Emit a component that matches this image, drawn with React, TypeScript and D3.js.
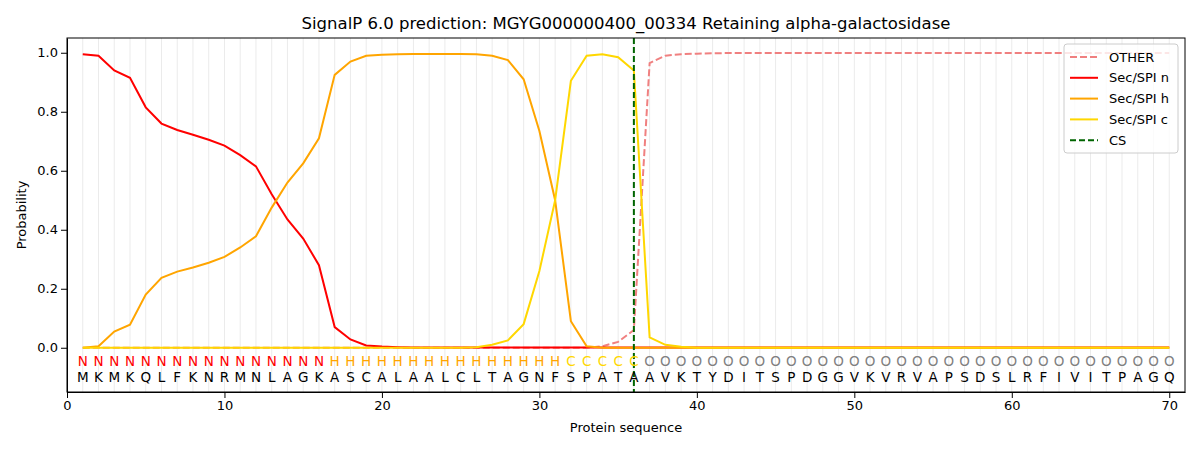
import { useEffect, useRef } from 'react';
import * as d3 from 'd3';

const sequence = 'MKMKQLFKNRMNLAGKASCALAALCLTAGNFSPATAAVKTYDITSPDGGVKVRVAPSDSLRFIVITPAGQ'.split('');
const labels = ('N'.repeat(16) + 'H'.repeat(15) + 'C'.repeat(5) + 'O'.repeat(34)).split('');
const secN = [0.995, 0.99, 0.94, 0.915, 0.815, 0.76, 0.738, 0.722, 0.705, 0.685, 0.653, 0.615, 0.52, 0.435, 0.37, 0.28, 0.07, 0.028, 0.008, 0.004, 0.002];
const secH = [0, 0.005, 0.055, 0.078, 0.18, 0.237, 0.258, 0.272, 0.288, 0.308, 0.34, 0.378, 0.475, 0.56, 0.625, 0.71, 0.925, 0.97, 0.99, 0.993, 0.995, 0.996, 0.996, 0.996, 0.996, 0.995, 0.99, 0.975, 0.91, 0.735, 0.5, 0.09, 0.005];
const secC = [0, 0, 0, 0, 0, 0, 0, 0, 0, 0, 0, 0, 0, 0, 0, 0, 0, 0, 0, 0, 0, 0, 0, 0, 0, 0.002, 0.01, 0.025, 0.08, 0.26, 0.5, 0.905, 0.99, 0.995, 0.985, 0.94, 0.035, 0.01, 0.003];
const other = [0, 0, 0, 0, 0, 0, 0, 0, 0, 0, 0, 0, 0, 0, 0, 0, 0, 0, 0, 0, 0, 0, 0, 0, 0, 0, 0, 0, 0, 0, 0, 0, 0, 0.005, 0.02, 0.06, 0.965, 0.99, 0.995, 0.997, 0.998];
const cs = 36;
const pad = (a: number[], last: number) => sequence.map((_, i) => (i < a.length ? a[i] : last));

const series = [
  { name: 'OTHER', color: '#f08080', dash: '7,3', values: pad(other, 0.999) },
  { name: 'Sec/SPI n', color: '#ff0000', dash: '', values: pad(secN, 0.001) },
  { name: 'Sec/SPI h', color: '#ffa500', dash: '', values: pad(secH, 0) },
  { name: 'Sec/SPI c', color: '#ffd700', dash: '', values: pad(secC, 0) },
];
const labelColor: Record<string, string> = { N: '#ff0000', H: '#ffa500', C: '#ffd700', O: '#808080' };

export default function App() {
  const ref = useRef<SVGSVGElement>(null);
  useEffect(() => {
    const svg = d3.select(ref.current);
    svg.selectAll('*').remove();
    const m = { left: 67, right: 15, top: 38, bottom: 58 };
    const W = 1200, H = 450;
    const x = d3.scaleLinear().domain([0, 71]).range([m.left, W - m.right]);
    const y = d3.scaleLinear().domain([-0.15, 1.05]).range([H - m.bottom, m.top]);
    svg.append('rect').attr('width', W).attr('height', H).attr('fill', 'white');
    const g = svg.append('g');
    // grid
    g.selectAll('line.grid').data(d3.range(1, 71)).join('line')
      .attr('x1', (d) => x(d)).attr('x2', (d) => x(d))
      .attr('y1', y(1.05)).attr('y2', y(-0.15))
      .attr('stroke', '#ebebeb').attr('stroke-width', 1);
    const line = d3.line<number>().x((_, i) => x(i + 1)).y((d) => y(d));
    series.forEach((s) => {
      g.append('path').attr('d', line(s.values)).attr('fill', 'none')
        .attr('stroke', s.color).attr('stroke-width', 2)
        .attr('stroke-dasharray', s.dash || null);
    });
    g.append('line').attr('x1', x(cs)).attr('x2', x(cs)).attr('y1', y(1.05)).attr('y2', y(-0.15))
      .attr('stroke', '#006400').attr('stroke-width', 2).attr('stroke-dasharray', '6,3');
    g.selectAll('text.lab').data(labels).join('text')
      .attr('x', (_, i) => x(i + 1)).attr('y', y(-0.047)).attr('dy', '0.35em')
      .attr('text-anchor', 'middle').attr('font-size', 13.5).attr('fill', (d) => labelColor[d]).text((d) => d);
    g.selectAll('text.seq').data(sequence).join('text')
      .attr('x', (_, i) => x(i + 1)).attr('y', y(-0.1)).attr('dy', '0.35em')
      .attr('text-anchor', 'middle').attr('font-size', 13.5).attr('fill', 'black').text((d) => d);
    // axes
    g.append('g').attr('transform', `translate(0,${H - m.bottom})`)
      .call(d3.axisBottom(x).tickValues(d3.range(0, 71, 10)).tickSizeOuter(0))
      .call((a) => a.selectAll('text').attr('font-size', 13).attr('font-family', 'DejaVu Sans'));
    g.append('g').attr('transform', `translate(${m.left},0)`)
      .call(d3.axisLeft(y).tickValues(d3.range(0, 1.01, 0.2)).tickFormat(d3.format('.1f')).tickSizeOuter(0))
      .call((a) => a.selectAll('text').attr('font-size', 13).attr('font-family', 'DejaVu Sans'));
    g.append('rect').attr('x', m.left).attr('y', m.top).attr('width', W - m.left - m.right)
      .attr('height', H - m.top - m.bottom).attr('fill', 'none').attr('stroke', 'black');
    svg.append('text').attr('x', (m.left + W - m.right) / 2).attr('y', 29).attr('text-anchor', 'middle')
      .attr('font-size', 16.5).text('SignalP 6.0 prediction: MGYG000000400_00334 Retaining alpha-galactosidase');
    svg.append('text').attr('x', (m.left + W - m.right) / 2).attr('y', 432).attr('text-anchor', 'middle')
      .attr('font-size', 13).text('Protein sequence');
    svg.append('text').attr('transform', `translate(26,${(m.top + H - m.bottom) / 2}) rotate(-90)`)
      .attr('text-anchor', 'middle').attr('font-size', 13).text('Probability');
    // legend
    const lg = svg.append('g').attr('transform', 'translate(1064,44)');
    lg.append('rect').attr('width', 114).attr('height', 109).attr('rx', 3).attr('fill', 'white')
      .attr('fill-opacity', 0.8).attr('stroke', '#ccc');
    const items = [...series, { name: 'CS', color: '#006400', dash: '6,3', values: [] }];
    items.forEach((s, i) => {
      const yy = 13 + i * 20.8;
      lg.append('line').attr('x1', 6).attr('x2', 34).attr('y1', yy).attr('y2', yy)
        .attr('stroke', s.color).attr('stroke-width', 2).attr('stroke-dasharray', s.dash || null);
      lg.append('text').attr('x', 45).attr('y', yy).attr('dy', '0.35em').attr('font-size', 13).text(s.name);
    });
  }, []);
  return (
    <svg ref={ref} width={1200} height={450} fontFamily="DejaVu Sans"
      style={{ position: 'absolute', left: 0, top: 0 }} />
  );
}
